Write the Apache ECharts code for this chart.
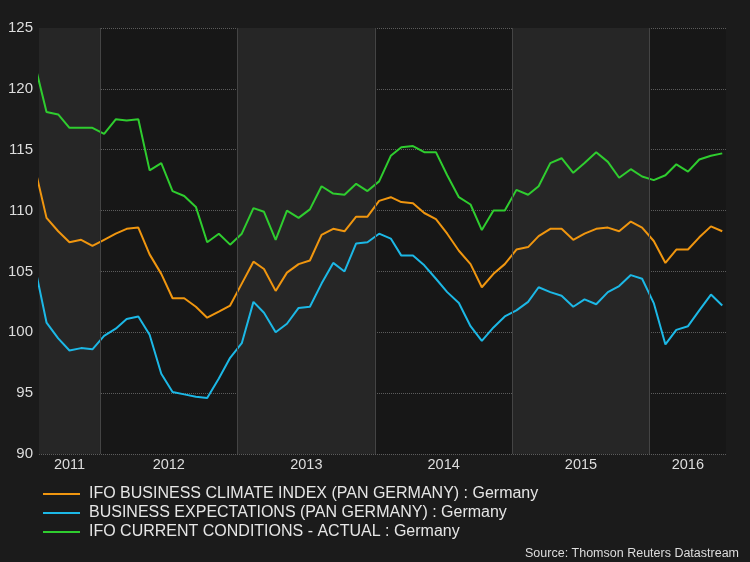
<!DOCTYPE html>
<html>
<head>
<meta charset="utf-8">
<script src="https://cdn.jsdelivr.net/npm/echarts@6/dist/echarts.min.js"></script>
<style>
html,body{margin:0;padding:0;background:#1b1b1b;}
#chart{width:750px;height:562px;}
</style>
</head>
<body>
<div id="chart"></div>
<script>
// Monthly observations, Jul 2011 .. Jul 2016
const months = ('2011-07 2011-08 2011-09 2011-10 2011-11 2011-12 ' +
  '2012-01 2012-02 2012-03 2012-04 2012-05 2012-06 2012-07 2012-08 2012-09 2012-10 2012-11 2012-12 ' +
  '2013-01 2013-02 2013-03 2013-04 2013-05 2013-06 2013-07 2013-08 2013-09 2013-10 2013-11 2013-12 ' +
  '2014-01 2014-02 2014-03 2014-04 2014-05 2014-06 2014-07 2014-08 2014-09 2014-10 2014-11 2014-12 ' +
  '2015-01 2015-02 2015-03 2015-04 2015-05 2015-06 2015-07 2015-08 2015-09 2015-10 2015-11 2015-12 ' +
  '2016-01 2016-02 2016-03 2016-04 2016-05 2016-06 2016-07').split(' ');

const climate = [113.5, 109.4, 108.3, 107.4, 107.6, 107.1,
  107.6, 108.1, 108.5, 108.6, 106.4, 104.8, 102.8, 102.8, 102.1, 101.2, 101.7, 102.2,
  104.0, 105.8, 105.2, 103.4, 104.9, 105.6, 105.9, 108.0, 108.5, 108.3, 109.5, 109.5,
  110.8, 111.1, 110.7, 110.6, 109.8, 109.3, 108.1, 106.7, 105.6, 103.7, 104.8, 105.6,
  106.8, 107.0, 107.9, 108.5, 108.5, 107.6, 108.1, 108.5, 108.6, 108.3, 109.1, 108.6,
  107.5, 105.7, 106.8, 106.8, 107.8, 108.7, 108.3];

const expectations = [105.4, 100.8, 99.5, 98.5, 98.7, 98.6,
  99.7, 100.3, 101.1, 101.3, 99.8, 96.6, 95.1, 94.9, 94.7, 94.6, 96.2, 97.9,
  99.1, 102.5, 101.6, 100.0, 100.7, 102.0, 102.1, 104.0, 105.7, 105.0, 107.3, 107.4,
  108.1, 107.7, 106.3, 106.3, 105.5, 104.4, 103.3, 102.4, 100.5, 99.3, 100.4, 101.3,
  101.8, 102.5, 103.7, 103.3, 103.0, 102.1, 102.7, 102.3, 103.3, 103.8, 104.7, 104.4,
  102.4, 99.0, 100.2, 100.5, 101.8, 103.1, 102.2];

const conditions = [122.0, 118.1, 117.9, 116.8, 116.8, 116.8,
  116.3, 117.5, 117.4, 117.5, 113.3, 113.9, 111.6, 111.2, 110.3, 107.4, 108.1, 107.2,
  108.1, 110.2, 109.9, 107.6, 110.0, 109.4, 110.1, 112.0, 111.4, 111.3, 112.2, 111.6,
  112.4, 114.5, 115.2, 115.3, 114.8, 114.8, 112.9, 111.1, 110.5, 108.4, 110.0, 110.0,
  111.7, 111.3, 112.0, 113.9, 114.3, 113.1, 113.9, 114.8, 114.0, 112.7, 113.4, 112.8,
  112.5, 112.9, 113.8, 113.2, 114.2, 114.5, 114.7];

const seriesNames = [
  'IFO BUSINESS CLIMATE INDEX (PAN GERMANY) : Germany',
  'BUSINESS EXPECTATIONS (PAN GERMANY) : Germany',
  'IFO CURRENT CONDITIONS - ACTUAL : Germany'
];
const colors = ['#f0960f', '#1cb8e6', '#2fcd2f'];

const years = [2011, 2012, 2013, 2014, 2015, 2016];
const shadedYears = [2011, 2013, 2015];
const axisMin = '2011-07-23';
const axisMax = '2016-07-22';
const yTicks = {min: 90, max: 125, interval: 5};

const FONT = "'Liberation Sans', Arial, sans-serif";

const pts = arr => arr.map((v, i) => [months[i] + '-12', v]);

const toTime = s => new Date(s + 'T00:00:00Z').getTime();
const bandData = years.map(y => {
  const s = Math.max(toTime(y + '-01-01'), toTime(axisMin));
  const e = Math.min(toTime((y + 1) + '-01-01'), toTime(axisMax));
  return [
    {xAxis: s, name: String(y), itemStyle: {color: shadedYears.includes(y) ? '#262626' : 'rgba(0,0,0,0)'}},
    {xAxis: e}
  ];
});
const yearLines = years.slice(1).map(y => ({xAxis: toTime(y + '-01-01')}));

const chart = echarts.init(document.getElementById('chart'));
chart.setOption({
  backgroundColor: '#1b1b1b',
  animation: false,
  textStyle: {fontFamily: FONT},
  title: {
    text: 'Source: Thomson Reuters Datastream',
    right: 6, bottom: -3,
    textStyle: {color: '#dddddd', fontSize: 12.5, fontWeight: 'normal', fontFamily: FONT}
  },
  legend: {
    data: seriesNames,
    orient: 'vertical',
    left: 38, top: 481,
    icon: 'rect',
    itemWidth: 37, itemHeight: 2,
    itemGap: 3,
    textStyle: {color: '#e6e6e6', fontSize: 16, lineHeight: 16, fontFamily: FONT, padding: [0, 0, 0, 4]}
  },
  grid: {
    left: 39, right: 24, top: 28, bottom: 108,
    show: true, backgroundColor: '#171717', borderWidth: 0
  },
  xAxis: {
    type: 'time',
    min: axisMin, max: axisMax,
    axisLabel: {show: false},
    axisTick: {show: false},
    axisLine: {show: false},
    splitLine: {show: false}
  },
  yAxis: {
    type: 'value',
    min: yTicks.min, max: yTicks.max, interval: yTicks.interval,
    axisLabel: {color: '#dddddd', fontSize: 15, margin: 6, fontFamily: FONT},
    axisTick: {show: false},
    axisLine: {show: false},
    splitLine: {lineStyle: {color: '#5c5c5c', type: 'dotted', width: 1}}
  },
  series: [
    {
      name: 'bands', type: 'line', data: pts(climate), z: 0, silent: true,
      symbol: 'none', lineStyle: {opacity: 0},
      markArea: {
        silent: true,
        label: {show: true, position: 'bottom', distance: 3, color: '#dddddd', fontSize: 14.5, fontFamily: FONT},
        data: bandData
      },
      markLine: {
        silent: true, symbol: 'none',
        label: {show: false},
        lineStyle: {color: '#444444', type: 'solid', width: 1},
        data: yearLines
      }
    },
    {name: seriesNames[0], type: 'line', data: pts(climate), symbol: 'none', z: 3,
     itemStyle: {color: colors[0]}, lineStyle: {color: colors[0], width: 2}},
    {name: seriesNames[1], type: 'line', data: pts(expectations), symbol: 'none', z: 3,
     itemStyle: {color: colors[1]}, lineStyle: {color: colors[1], width: 2}},
    {name: seriesNames[2], type: 'line', data: pts(conditions), symbol: 'none', z: 3,
     itemStyle: {color: colors[2]}, lineStyle: {color: colors[2], width: 2}}
  ]
});
</script>
</body>
</html>
